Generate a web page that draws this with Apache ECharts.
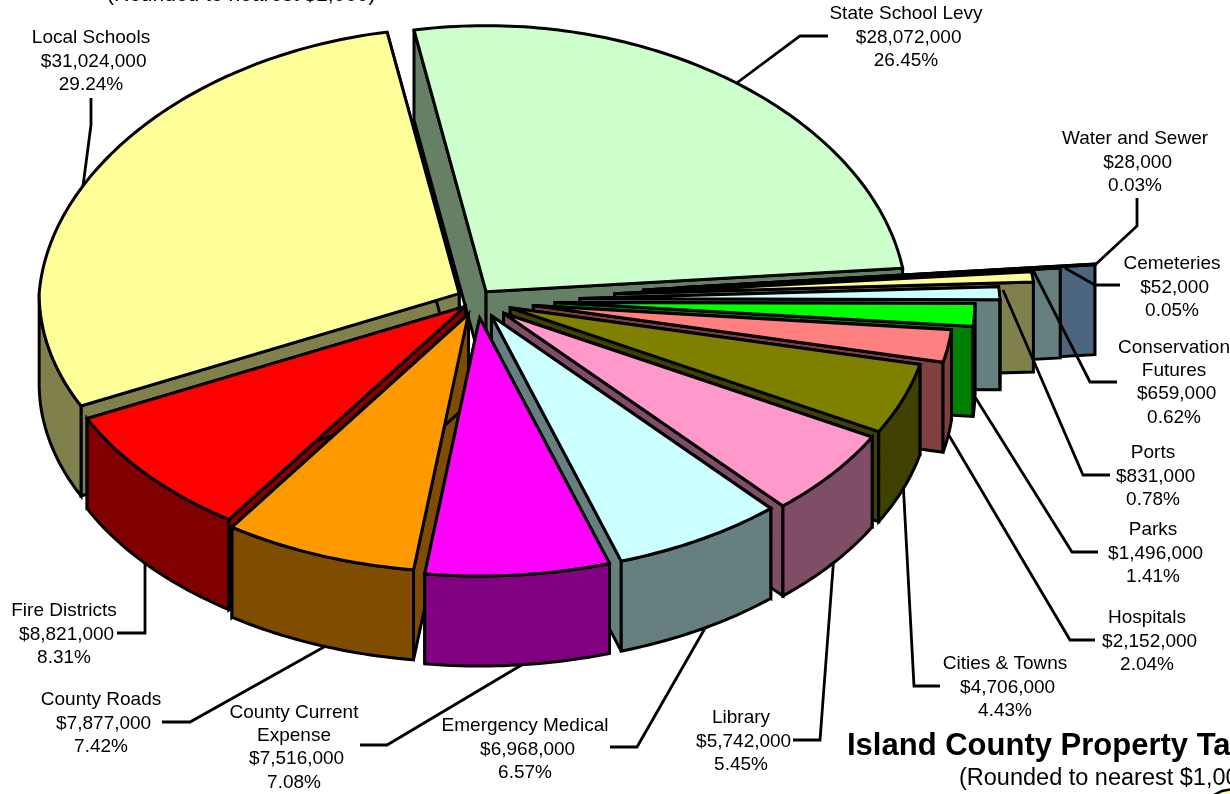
<!DOCTYPE html>
<html><head><meta charset="utf-8">
<style>html,body{margin:0;padding:0;background:#fff;overflow:hidden}#c{width:1230px;height:794px}</style>
<script src="https://cdn.jsdelivr.net/npm/echarts@6/dist/echarts.min.js"></script>
</head><body><div id="c"></div>
<script>
// ---- data ----
const categories = ["State School Levy","Water and Sewer","Cemeteries","Conservation\nFutures","Ports","Parks","Hospitals","Cities & Towns","Library","Emergency Medical","County Current\nExpense","County Roads","Fire Districts","Local Schools"];
const amounts = [28072000,28000,52000,659000,831000,1496000,2152000,4706000,5742000,6968000,7516000,7877000,8821000,31024000];
const percents = [26.45,0.03,0.05,0.62,0.78,1.41,2.04,4.43,5.45,6.57,7.08,7.42,8.31,29.24];
// ---- styles / layout (separate from the values) ----
const topColors = ["#CCFFCC","#99CCFF","#CCFFFF","#FFFF99","#CCFFFF","#00FF00","#FF8080","#808000","#FF99CC","#CCFFFF","#FF00FF","#FF9900","#FF0000","#FFFF99"];
const wallColors = ["#668066","#4D6680","#668080","#80804D","#668080","#008000","#804040","#404000","#804D66","#668080","#800080","#804D00","#800000","#80804D"];
const explode = [15,202,167,138,103,78,57,35.5,34,29,29,24,15.5,20];
const drawOrder = [0,1,2,3,4,5,6,7,8,9,13,12,11,10];
const leadersOnTop = [1,2,3,4];
const pie = {cx:477,cy:300,rx:420,ryBack:266,ryFront:258,tiltBack:0.7,tiltFront:0.625,backNarrow:0.05,depth:90,start:-10.4};
const labelAnchors = [[906,37.5],[1135,162.5],[1172,287.5],[1174,382.5],[1153,476.5],[1153,553.5],[1147,641.5],[1005,687.5],[741,741.5],[525,749.5],[294,747.5],[101,723.5],[64,634.5],[91,61.5]];
const leaders = [[[726,91],[800,36],[828,36]],[[1137,198],[1137,226],[1095,265]],[[1065,268],[1095,285],[1120,285]],[[1033,270],[1090,382],[1117,382]],[[1003,290],[1083,475],[1110,475]],[[970,389],[1072,552],[1098,552]],[[944,427],[1070,640],[1095,640]],[[903,480],[914,686],[940,686]],[[834,555],[820,740],[793,740]],[[712,616],[637,747],[610,747]],[[540,654],[387,745],[360,745]],[[340,638],[190,722],[162,722]],[[145,550],[145,633],[117,633]],[[83,186],[91,125],[91,98]]];
const FONT = '"Liberation Sans",Arial,sans-serif';
const total = percents.reduce((a,b)=>a+b,0);
const rad = d=>d*Math.PI/180;
const angles = []; { let a = pie.start; percents.forEach(p=>{const b=a+p/total*360;angles.push([a,b]);a=b;}); }
function renderSlice(params, api){
  const i = api.value(0), [a,b] = angles[i], mid=(a+b)/2, e=explode[i];
  const cm = Math.cos(rad(mid));
  const ax = pie.cx+e*Math.sin(rad(mid)), ay = pie.cy-e*(cm>0?pie.tiltBack:pie.tiltFront)*cm;
  const pt = t=>{const c=Math.cos(rad(t));return [ax+pie.rx*Math.sin(rad(t))*(1-pie.backNarrow*Math.max(c,0)), ay-(c>0?pie.ryBack:pie.ryFront)*c];};
  const dn = p=>[p[0],p[1]+pie.depth];
  const arc = (s,f)=>{const n=Math.max(2,Math.ceil((f-s)/1.0)),o=[];for(let k=0;k<=n;k++)o.push(pt(s+(f-s)*k/n));return o;};
  const st = fill=>({fill,stroke:'#000',lineWidth:3,lineJoin:'miter',miterLimit:4});
  const A=[ax,ay], P1=pt(a), P2=pt(b), kids=[];
  const poly = (points,fill)=>kids.push({type:'polygon',shape:{points},style:st(fill)});
  poly([A,P1,dn(P1),dn(A)],wallColors[i]);
  poly([A,P2,dn(P2),dn(A)],wallColors[i]);
  const s=Math.max(a,90), f=Math.min(b,270);
  if(f>s){ const o=arc(s,f); poly(o.concat(o.slice().reverse().map(dn)),wallColors[i]); }
  poly([A].concat(arc(a,b)),topColors[i]);
  return {type:'group',children:kids};
}
function renderLeader(params, api){
  return {type:'polyline',shape:{points:leaders[api.value(0)]},style:{fill:null,stroke:'#000',lineWidth:2.8}};
}
function renderLabel(params, api){
  const i = api.value(0), Q=labelAnchors[i];
  const text = categories[i]+"\n $"+amounts[i].toLocaleString('en-US')+"\n"+percents[i].toFixed(2)+"%";
  return {type:'text',style:{x:Q[0],y:Q[1],text,align:'center',verticalAlign:'middle',font:'19px '+FONT,lineHeight:23.4,fill:'#000'}};
}
const idx = amounts.map((v,i)=>[i,v]);
const chart = echarts.init(document.getElementById('c'),null,{renderer:'canvas'});
chart.setOption({
  backgroundColor:'#fff',animation:false,
  series:[
    {type:'custom',coordinateSystem:'none',renderItem:renderLeader,data:idx.filter(d=>!leadersOnTop.includes(d[0])),silent:true,z:1},
    {type:'custom',coordinateSystem:'none',renderItem:renderSlice,data:drawOrder.map(i=>[i,amounts[i]]),silent:true,z:2},
    {type:'custom',coordinateSystem:'none',renderItem:renderLeader,data:idx.filter(d=>leadersOnTop.includes(d[0])),silent:true,z:3},
    {type:'custom',coordinateSystem:'none',renderItem:renderLabel,data:idx,silent:true,z:4}
  ],
  graphic:[
    {type:'text',z:5,x:107,y:-5,style:{text:'(Rounded to nearest $1,000)',font:'21px '+FONT,fill:'#000',verticalAlign:'middle'}},
    {type:'text',z:5,x:847,y:746,style:{text:'Island County Property Tax',font:'bold 31px '+FONT,fill:'#000',verticalAlign:'middle'}},
    {type:'text',z:5,x:959,y:779,style:{text:'(Rounded to nearest $1,000)',font:'23.5px '+FONT,fill:'#000',verticalAlign:'middle'}},
    {type:'polygon',z:4,shape:{points:[[1212,796],[1222,791],[1232,789],[1232,796]]},style:{fill:'#FFFF99',stroke:'#000',lineWidth:2.5}}
  ]
});
</script></body></html>
